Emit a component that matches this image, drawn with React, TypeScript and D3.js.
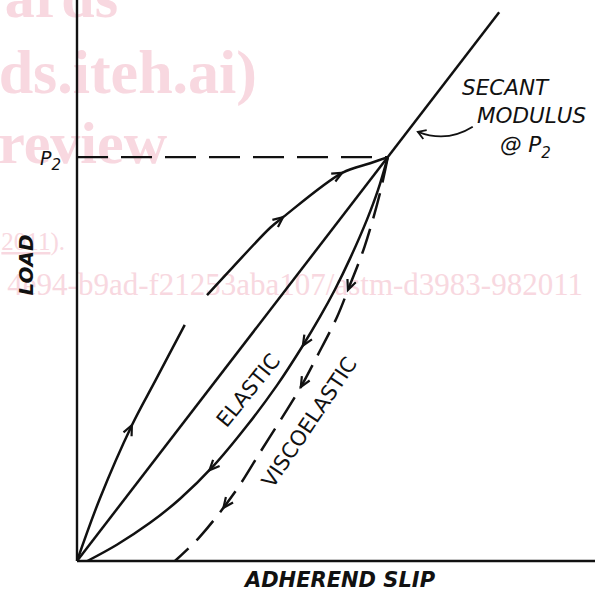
import { useEffect, useRef } from "react";
import * as d3 from "d3";

type Pt = [number, number]; // [slip, load]

// Peak load and the slip it occurs at
const P2 = 7.2;
const SLIP_AT_P2 = 6.0;
const SECANT_END_SLIP = 8.15;

// loading curve (drawn in two pieces, there's a small break in it)
const loadingLow: Pt[] = [[0, 0], [0.44, 1.11], [1.06, 2.42], [1.51, 3.21], [2.08, 4.21]];
const loadingHigh: Pt[] = [[2.51, 4.74], [3.01, 5.24], [3.73, 5.94], [3.98, 6.13], [5.12, 6.92], [5.66, 7.09], [6.0, 7.2]];

// unloading curves, from the peak back down
const elasticUnload: Pt[] = [
  [6.0, 7.2], [5.81, 6.61], [5.6, 6.09], [5.27, 5.39], [4.98, 4.84], [4.69, 4.35], [4.34, 3.81],
  [3.86, 3.13], [3.28, 2.41], [2.63, 1.69], [1.99, 1.11], [1.41, 0.68], [0.77, 0.29], [0.2, 0],
];
const viscoUnload: Pt[] = [
  [6.0, 7.2], [5.85, 6.56], [5.55, 5.6], [5.23, 4.83], [5.02, 4.35], [4.63, 3.64], [4.32, 3.1],
  [4.05, 2.69], [3.53, 1.93], [3.05, 1.23], [2.37, 0.43], [1.89, 0],
];

// where the direction arrows sit on each curve
const loadingArrows: Pt[] = [[1.06, 2.42], [3.98, 6.13], [5.12, 6.92]];
const elasticArrows: Pt[] = [[4.34, 3.85], [2.55, 1.62]];
const viscoArrows: Pt[] = [[5.23, 4.83], [4.32, 3.1], [2.82, 0.95]];

// leader from the SECANT MODULUS note to the secant line
const leader: Pt[] = [[7.64, 7.74], [7.14, 7.45], [6.58, 7.65]];

// faint background watermark fragments (right edge, baseline, size, bold)
const watermark: { text: string; x: number; y: number; size: number; bold: boolean }[] = [
  { text: "ards", x: 118, y: 17, size: 60, bold: true },
  { text: "ds.iteh.ai)", x: 257, y: 93, size: 62, bold: true },
  { text: "review", x: 167, y: 163, size: 60, bold: true },
  { text: "4e94-b9ad-f21253aba107/astm-d3983-982011", x: 583, y: 295, size: 31, bold: false },
];

const INK = "#111";
const FONT = "'DejaVu Sans', Verdana, sans-serif";

export default function App() {
  const svgRef = useRef<SVGSVGElement>(null);
  const width = 600;
  const height = 593;

  useEffect(() => {
    if (!svgRef.current) return;
    const svg = d3.select(svgRef.current);
    svg.selectAll("*").remove();

    const x = d3.scaleLinear().domain([0, 10]).range([77, 595]);
    const y = d3.scaleLinear().domain([0, 10]).range([561, 0]);

    // watermark
    const wm = svg.append("g").attr("fill", "#f8d8e0").style("font-family", "'Liberation Serif', 'Times New Roman', serif");
    watermark.forEach((w) => {
      wm.append("text")
        .attr("x", w.x)
        .attr("y", w.y)
        .attr("text-anchor", "end")
        .style("font-size", `${w.size}px`)
        .style("font-weight", w.bold ? "bold" : "normal")
        .text(w.text);
    });
    const wl = wm.append("text").attr("x", 65).attr("y", 250).attr("text-anchor", "end").style("font-size", "25px");
    wl.append("tspan").style("text-decoration", "underline").text("2011");
    wl.append("tspan").text(").");

    // axes
    svg.append("line")
      .attr("x1", x(0)).attr("x2", x(0)).attr("y1", y(0)).attr("y2", y(10))
      .attr("stroke", INK).attr("stroke-width", 2.4);
    svg.append("line")
      .attr("x1", x(0)).attr("x2", x(10)).attr("y1", y(0)).attr("y2", y(0))
      .attr("stroke", INK).attr("stroke-width", 2.4);

    // P2 dashed level
    svg.append("line")
      .attr("x1", x(0)).attr("x2", x(SLIP_AT_P2)).attr("y1", y(P2)).attr("y2", y(P2))
      .attr("stroke", INK).attr("stroke-width", 2.2).attr("stroke-dasharray", "31 13");

    const line = d3.line<Pt>()
      .x((d) => x(d[0]))
      .y((d) => y(d[1]))
      .curve(d3.curveCatmullRom.alpha(0.5));

    const drawCurve = (pts: Pt[], dash?: string) => {
      const p = svg.append("path")
        .attr("d", line(pts) || "")
        .attr("fill", "none")
        .attr("stroke", INK)
        .attr("stroke-width", 2.5)
        .attr("stroke-linecap", "butt");
      if (dash) p.attr("stroke-dasharray", dash);
      return p.node() as SVGPathElement;
    };

    // secant line through the origin and the peak
    const secant: Pt[] = [[0, 0], [SECANT_END_SLIP, (SECANT_END_SLIP * P2) / SLIP_AT_P2]];
    svg.append("path")
      .attr("d", d3.line<Pt>().x((d) => x(d[0])).y((d) => y(d[1]))(secant) || "")
      .attr("stroke", INK).attr("stroke-width", 2.5).attr("fill", "none");

    const lowNode = drawCurve(loadingLow);
    const highNode = drawCurve(loadingHigh);
    const elasticNode = drawCurve(elasticUnload);
    const viscoNode = drawCurve(viscoUnload, "26 11");

    // open chevron arrowheads following the path direction
    const addArrows = (node: SVGPathElement, pts: Pt[]) => {
      const total = node.getTotalLength();
      pts.forEach(([s, l]) => {
        const tx = x(s), ty = y(l);
        let best = 0, bestD = Infinity;
        for (let k = 0; k <= total; k += 0.5) {
          const p = node.getPointAtLength(k);
          const dd = (p.x - tx) ** 2 + (p.y - ty) ** 2;
          if (dd < bestD) { bestD = dd; best = k; }
        }
        const a = node.getPointAtLength(Math.max(0, best - 3));
        const b = node.getPointAtLength(Math.min(total, best + 3));
        const ang = Math.atan2(b.y - a.y, b.x - a.x);
        const tip = node.getPointAtLength(best);
        const len = 11, spread = 0.42;
        const p1 = [tip.x - len * Math.cos(ang - spread), tip.y - len * Math.sin(ang - spread)];
        const p2 = [tip.x - len * Math.cos(ang + spread), tip.y - len * Math.sin(ang + spread)];
        svg.append("path")
          .attr("d", `M${p1[0]},${p1[1]}L${tip.x},${tip.y}L${p2[0]},${p2[1]}`)
          .attr("fill", "none").attr("stroke", INK).attr("stroke-width", 2.2)
          .attr("stroke-linejoin", "miter");
      });
    };
    addArrows(lowNode, loadingArrows.slice(0, 1));
    addArrows(highNode, loadingArrows.slice(1));
    addArrows(elasticNode, elasticArrows);
    addArrows(viscoNode, viscoArrows);

    // leader arrow for the note
    const [l0, lc, l1] = leader;
    svg.append("path")
      .attr("d", `M${x(l0[0])},${y(l0[1])}Q${x(lc[0])},${y(lc[1])} ${x(l1[0])},${y(l1[1])}`)
      .attr("fill", "none").attr("stroke", INK).attr("stroke-width", 1.8);
    {
      const ang = Math.atan2(y(l1[1]) - y(lc[1]), x(l1[0]) - x(lc[0]));
      const tx = x(l1[0]), ty = y(l1[1]);
      const len = 9, spread = 0.55;
      svg.append("path")
        .attr("d", `M${tx - len * Math.cos(ang - spread)},${ty - len * Math.sin(ang - spread)}L${tx},${ty}L${tx - len * Math.cos(ang + spread)},${ty - len * Math.sin(ang + spread)}`)
        .attr("fill", "none").attr("stroke", INK).attr("stroke-width", 1.8);
    }

    const txt = svg.append("g").attr("fill", INK).style("font-family", FONT);

    // note text
    txt.append("text").attr("x", 462).attr("y", 95).style("font-size", "21.5px").style("font-style", "italic").text("SECANT");
    txt.append("text").attr("x", 477).attr("y", 123).style("font-size", "21.5px").style("font-style", "italic").text("MODULUS");
    const at = txt.append("text").attr("x", 500).attr("y", 152).style("font-size", "21.5px").style("font-style", "italic");
    at.append("tspan").text("@ P");
    at.append("tspan").attr("dy", 6).style("font-size", "15px").text("2");

    // P2 tick label
    const p2t = txt.append("text").attr("x", 40).attr("y", y(P2) + 8).style("font-size", "19px").style("font-style", "italic");
    p2t.append("tspan").text("P");
    p2t.append("tspan").attr("dy", 5).style("font-size", "15px").text("2");

    // curve labels
    txt.append("text")
      .attr("transform", "translate(248,390) rotate(-51)")
      .attr("text-anchor", "middle").attr("dy", "0.36em")
      .style("font-size", "21px")
      .text("ELASTIC");
    txt.append("text")
      .attr("transform", "translate(309,422) rotate(-56)")
      .attr("text-anchor", "middle").attr("dy", "0.36em")
      .style("font-size", "21px")
      .text("VISCOELASTIC");

    // axis titles
    txt.append("text")
      .attr("transform", "translate(33,265) rotate(-90)")
      .attr("text-anchor", "middle")
      .style("font-size", "20px").style("font-weight", "bold").style("font-style", "italic")
      .text("LOAD");
    txt.append("text")
      .attr("x", 340).attr("y", 587)
      .attr("text-anchor", "middle")
      .style("font-size", "21px").style("font-weight", "bold").style("font-style", "italic")
      .text("ADHEREND SLIP");
  }, []);

  return (
    <div style={{ position: "absolute", left: 0, top: 0, width, height, background: "#fff" }}>
      <svg ref={svgRef} width={width} height={height} style={{ display: "block" }} />
    </div>
  );
}
